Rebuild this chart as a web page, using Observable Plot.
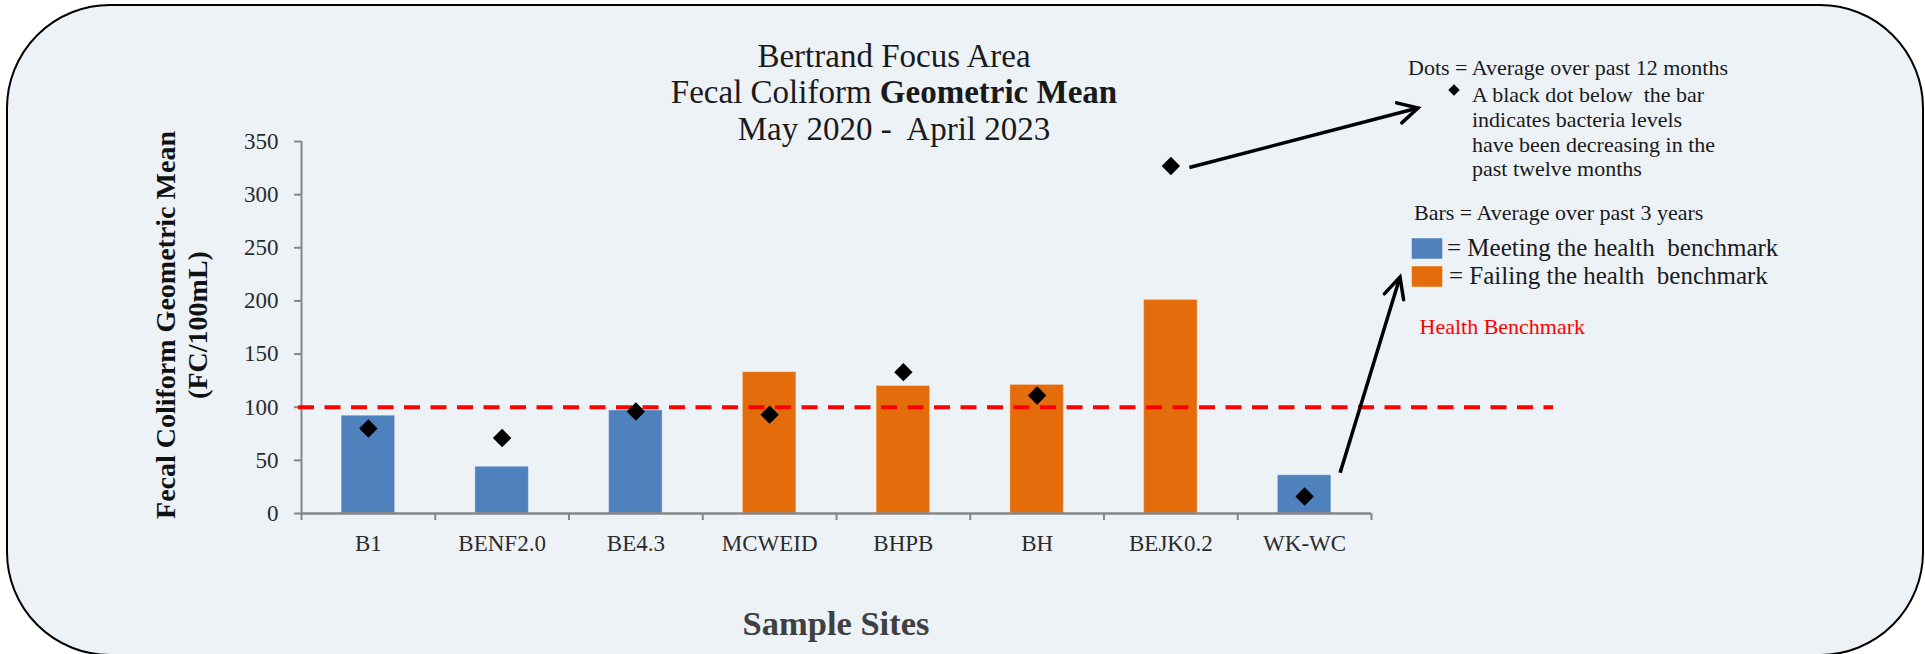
<!DOCTYPE html>
<html>
<head>
<meta charset="utf-8">
<script src="https://cdn.jsdelivr.net/npm/d3@7"></script>
<script src="https://cdn.jsdelivr.net/npm/@observablehq/plot@0.6"></script>
<style>
  html, body { margin: 0; padding: 0; background: #ffffff; }
  #wrap { position: relative; width: 1925px; height: 654px; overflow: hidden; font-family: "Liberation Serif", serif; }
  #box { position: absolute; left: 6px; top: 4px; width: 1918px; height: 652px; box-sizing: border-box;
         border: 2px solid #000; border-radius: 104px; background: #EDF2F7; }
  #chart { position: absolute; left: 0; top: 0; }
  #overlay { position: absolute; left: 0; top: 0; pointer-events: none; }
  #overlay text { white-space: pre; font-family: "Liberation Serif", serif; }
</style>
</head>
<body>
<div id="wrap">
  <div id="box"></div>
  <div id="chart"></div>
  <svg id="overlay" width="1925" height="654"></svg>
</div>
<script>
// ---------------- data ----------------
const sites = ["B1", "BENF2.0", "BE4.3", "MCWEID", "BHPB", "BH", "BEJK0.2", "WK-WC"];
const mean3yr = [92, 44, 97, 133, 120, 121, 201, 36];      // bars: average over past 3 years
const avg12mo = [80, 71, 96, 93, 133, 111, 327, 16];       // dots: average over past 12 months
const benchmark = 100;
const yTicks = [0, 50, 100, 150, 200, 250, 300, 350];
const statusNames = ["Meeting the health benchmark", "Failing the health benchmark"];
const statusColors = ["#4F81BD", "#E46C0A"];

const titleLines = ["Bertrand Focus Area", "Fecal Coliform ", "Geometric Mean", "May 2020 -  April 2023"];
const yTitle = ["Fecal Coliform Geometric Mean", "(FC/100mL)"];
const xTitle = "Sample Sites";
const dotsNote = ["Dots = Average over past 12 months", "A black dot below  the bar", "indicates bacteria levels", "have been decreasing in the", "past twelve months"];
const barsNote = "Bars = Average over past 3 years";
const benchLabel = "Health Benchmark";

const data = sites.map((site, i) => ({
  site, mean: mean3yr[i], recent: avg12mo[i],
  status: mean3yr[i] <= benchmark ? statusNames[0] : statusNames[1]
}));

// ---------------- layout ----------------
const W = 1925, H = 654;
const L = 301, R = 1371, LINE_END = 1553, T = 141, B = 513;
const bw = (R - L) / sites.length;
const barW = 53.5;
const axisGray = "#868686";
const textDark = "#2b2b2b";

const plot = Plot.plot({
  width: W, height: H,
  marginLeft: L, marginRight: W - LINE_END, marginTop: T, marginBottom: H - B,
  style: { background: "transparent", fontFamily: "Liberation Serif, serif", overflow: "visible" },
  x: { type: "band", domain: sites, range: [L, R], padding: 0, round: false },
  y: { domain: [0, 350] },
  color: { domain: statusNames, range: statusColors },
  marks: [
    Plot.barY(data, { x: "site", y: "mean", fill: "status",
      insetLeft: (bw - barW) / 2, insetRight: (bw - barW) / 2,
      stroke: "#ffffff", strokeOpacity: 0.35, strokeWidth: 1 }),
    // y axis line
    Plot.ruleX([sites[0]], { x: d => d, dx: -bw / 2, stroke: axisGray, strokeWidth: 2 }),
    // x axis line
    Plot.ruleY([0], { stroke: axisGray, strokeWidth: 2.5, insetRight: LINE_END - R }),
    // category boundary ticks
    Plot.ruleX(sites, { x: d => d, dx: -bw / 2, insetTop: B - T, insetBottom: -7, stroke: axisGray, strokeWidth: 2 }),
    Plot.ruleX([sites[sites.length - 1]], { x: d => d, dx: bw / 2, insetTop: B - T, insetBottom: -7, stroke: axisGray, strokeWidth: 2 }),
    Plot.axisY({ ticks: yTicks, tickSize: 7, tickPadding: 16, fontSize: 23, stroke: axisGray, strokeWidth: 2, fill: textDark, label: null }),
    Plot.axisX({ tickSize: 0, tickPadding: 21, fontSize: 23, fill: textDark, label: null }),
    // health benchmark
    Plot.ruleY([benchmark], { stroke: "#FF0000", strokeWidth: 4, strokeDasharray: "16 10.5", insetLeft: -3 }),
    // 12-month averages
    Plot.dot(data, { x: "site", y: "recent", symbol: "diamond2", r: 8.3, fill: "black", stroke: "none" })
  ]
});
document.getElementById("chart").appendChild(plot);

// ---------------- annotations ----------------
const xs = plot.scale("x"), ys = plot.scale("y");
const ov = d3.select("#overlay");

function txt(x, y, s, o = {}) {
  return ov.append("text").attr("x", x).attr("y", y)
    .attr("font-size", o.size || 22).attr("font-weight", o.weight || "normal")
    .attr("fill", o.fill || "#1a1a1a").attr("text-anchor", o.anchor || "start")
    .text(s);
}

// title
const tcx = 894;
txt(tcx, 67, titleLines[0], { size: 33, anchor: "middle" });
const t2 = ov.append("text").attr("x", tcx).attr("y", 103).attr("font-size", 33)
  .attr("text-anchor", "middle").attr("fill", "#1a1a1a");
t2.append("tspan").text(titleLines[1]);
t2.append("tspan").attr("font-weight", "bold").text(titleLines[2]);
txt(tcx, 140, titleLines[3], { size: 33, anchor: "middle" });

// y title (rotated)
[[175, yTitle[0]], [207, yTitle[1]]].forEach(([bx, s]) => {
  ov.append("text").attr("transform", `translate(${bx},${(T + B) / 2 - 2}) rotate(-90)`)
    .attr("font-size", 28).attr("font-weight", "bold").attr("text-anchor", "middle")
    .attr("fill", "#111").text(s);
});

// x title
txt((L + R) / 2, 635, xTitle, { size: 34.5, weight: "bold", anchor: "middle", fill: "#404040" });

// legend notes
txt(1408, 75, dotsNote[0], { size: 22 });
ov.append("path").attr("d", d3.symbol(d3.symbolDiamond2, 85)()).attr("transform", "translate(1454,90)").attr("fill", "#000");
[102, 127, 152, 176].forEach((y, i) => txt(1472, y, dotsNote[i + 1], { size: 22 }));
txt(1414, 220, barsNote, { size: 22 });
[[238, 256], [266, 284]].forEach(([ry, by], i) => {
  ov.append("rect").attr("x", 1411.5).attr("y", ry).attr("width", 31).attr("height", 21)
    .attr("fill", statusColors[i]).attr("stroke", "#ffffff").attr("stroke-opacity", 0.4);
  txt(1447 + i * 2, by, "= " + statusNames[i].replace("health benchmark", "health  benchmark"), { size: 25 });
});
txt(1419.5, 334, benchLabel, { size: 22, fill: "#FF0000" });

// arrows
function arrow(x1, y1, x2, y2, spread, len) {
  ov.append("line").attr("x1", x1).attr("y1", y1).attr("x2", x2).attr("y2", y2)
    .attr("stroke", "#000").attr("stroke-width", 3.5);
  const a = Math.atan2(y1 - y2, x1 - x2);
  const s = spread * Math.PI / 180;
  const p = [a + s, a - s].map(t => [x2 + len * Math.cos(t), y2 + len * Math.sin(t)]);
  ov.append("path").attr("d", `M${p[0][0]},${p[0][1]}L${x2},${y2}L${p[1][0]},${p[1][1]}`)
    .attr("fill", "none").attr("stroke", "#000").attr("stroke-width", 3.5)
    .attr("stroke-linecap", "round").attr("stroke-linejoin", "miter");
}
const iDot = sites.indexOf("BEJK0.2");
arrow(xs.apply("BEJK0.2") + xs.bandwidth / 2 + 19, ys.apply(avg12mo[iDot]) + 2, 1418, 108, 28, 22);
const iBar = sites.indexOf("WK-WC");
arrow(xs.apply("WK-WC") + xs.bandwidth / 2 + 36, ys.apply(mean3yr[iBar]) - 2, 1400, 277, 26, 23);
</script>
</body>
</html>
